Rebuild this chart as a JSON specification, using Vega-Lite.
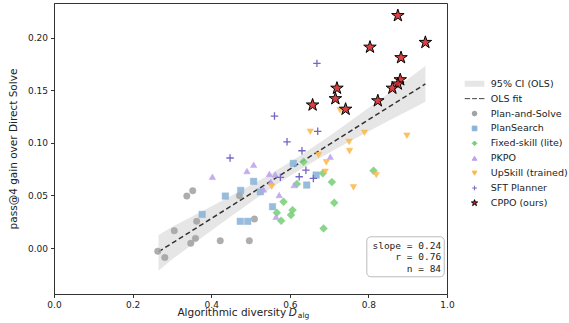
{
  "$schema": "https://vega.github.io/schema/vega-lite/v6.json",
  "width": 393,
  "height": 291,
  "autosize": {"type": "none"},
  "padding": {"left": 54, "top": 3, "right": 122, "bottom": 29},
  "background": "white",
  "config": {
    "font": "DejaVu Sans",
    "view": {"stroke": "#333", "strokeWidth": 1},
    "axis": {"grid": false, "domainColor": "#333", "tickColor": "#333", "labelColor": "#222", "titleColor": "#222", "labelFontSize": 9, "titleFontSize": 10.5, "titleFontWeight": "normal", "tickSize": 3.5, "labelPadding": 3, "labelFlush": false},
    "legend": {"orient": "none", "legendX": 415.8, "legendY": 76, "padding": 0, "labelFontSize": 9.5, "labelColor": "#222", "labelLimit": 200, "symbolSize": 22, "symbolStrokeWidth": 1, "rowPadding": 3.9, "labelOffset": 11.5, "symbolOpacity": 1}
  },
  "datasets": {
    "pts": [
      {"group": "Plan-and-Solve", "x": 0.264, "y": -0.003},
      {"group": "Plan-and-Solve", "x": 0.282, "y": -0.009},
      {"group": "Plan-and-Solve", "x": 0.306, "y": 0.0165},
      {"group": "Plan-and-Solve", "x": 0.348, "y": 0.0045},
      {"group": "Plan-and-Solve", "x": 0.36, "y": 0.0092},
      {"group": "Plan-and-Solve", "x": 0.363, "y": 0.0254},
      {"group": "Plan-and-Solve", "x": 0.338, "y": 0.0494},
      {"group": "Plan-and-Solve", "x": 0.353, "y": 0.0545},
      {"group": "Plan-and-Solve", "x": 0.423, "y": 0.0069},
      {"group": "Plan-and-Solve", "x": 0.497, "y": 0.0069},
      {"group": "Plan-and-Solve", "x": 0.51, "y": 0.0276},
      {"group": "Plan-and-Solve", "x": 0.472, "y": 0.0497},
      {"group": "PlanSearch", "x": 0.377, "y": 0.032},
      {"group": "PlanSearch", "x": 0.436, "y": 0.0494},
      {"group": "PlanSearch", "x": 0.475, "y": 0.0548},
      {"group": "PlanSearch", "x": 0.508, "y": 0.0634},
      {"group": "PlanSearch", "x": 0.525, "y": 0.0535},
      {"group": "PlanSearch", "x": 0.474, "y": 0.0254},
      {"group": "PlanSearch", "x": 0.493, "y": 0.0254},
      {"group": "PlanSearch", "x": 0.609, "y": 0.0805},
      {"group": "PlanSearch", "x": 0.667, "y": 0.0694},
      {"group": "PlanSearch", "x": 0.643, "y": 0.0599},
      {"group": "PlanSearch", "x": 0.556, "y": 0.0393},
      {"group": "Fixed-skill (lite)", "x": 0.635, "y": 0.082},
      {"group": "Fixed-skill (lite)", "x": 0.707, "y": 0.0627},
      {"group": "Fixed-skill (lite)", "x": 0.684, "y": 0.071},
      {"group": "Fixed-skill (lite)", "x": 0.584, "y": 0.044},
      {"group": "Fixed-skill (lite)", "x": 0.713, "y": 0.0431},
      {"group": "Fixed-skill (lite)", "x": 0.607, "y": 0.0361},
      {"group": "Fixed-skill (lite)", "x": 0.603, "y": 0.0314},
      {"group": "Fixed-skill (lite)", "x": 0.567, "y": 0.0336},
      {"group": "Fixed-skill (lite)", "x": 0.578, "y": 0.026},
      {"group": "Fixed-skill (lite)", "x": 0.686, "y": 0.0187},
      {"group": "Fixed-skill (lite)", "x": 0.813, "y": 0.0735},
      {"group": "Fixed-skill (lite)", "x": 0.618, "y": 0.061},
      {"group": "PKPO", "x": 0.403, "y": 0.0678},
      {"group": "PKPO", "x": 0.491, "y": 0.0732},
      {"group": "PKPO", "x": 0.508, "y": 0.0792},
      {"group": "PKPO", "x": 0.703, "y": 0.0868},
      {"group": "PKPO", "x": 0.563, "y": 0.07},
      {"group": "PKPO", "x": 0.552, "y": 0.063},
      {"group": "PKPO", "x": 0.533, "y": 0.0558},
      {"group": "PKPO", "x": 0.611, "y": 0.0599},
      {"group": "PKPO", "x": 0.573, "y": 0.0504},
      {"group": "PKPO", "x": 0.565, "y": 0.0298},
      {"group": "PKPO", "x": 0.548, "y": 0.0705},
      {"group": "UpSkill (trained)", "x": 0.652, "y": 0.1106},
      {"group": "UpSkill (trained)", "x": 0.728, "y": 0.131},
      {"group": "UpSkill (trained)", "x": 0.79, "y": 0.1096},
      {"group": "UpSkill (trained)", "x": 0.898, "y": 0.1068},
      {"group": "UpSkill (trained)", "x": 0.751, "y": 0.101},
      {"group": "UpSkill (trained)", "x": 0.752, "y": 0.0922},
      {"group": "UpSkill (trained)", "x": 0.82, "y": 0.0694},
      {"group": "UpSkill (trained)", "x": 0.762, "y": 0.0577},
      {"group": "UpSkill (trained)", "x": 0.673, "y": 0.0884},
      {"group": "UpSkill (trained)", "x": 0.693, "y": 0.0815},
      {"group": "UpSkill (trained)", "x": 0.69, "y": 0.0725},
      {"group": "UpSkill (trained)", "x": 0.554, "y": 0.0583},
      {"group": "SFT Planner", "x": 0.669, "y": 0.1756},
      {"group": "SFT Planner", "x": 0.561, "y": 0.1255},
      {"group": "SFT Planner", "x": 0.671, "y": 0.111},
      {"group": "SFT Planner", "x": 0.593, "y": 0.101},
      {"group": "SFT Planner", "x": 0.631, "y": 0.0925},
      {"group": "SFT Planner", "x": 0.448, "y": 0.0856},
      {"group": "SFT Planner", "x": 0.641, "y": 0.074},
      {"group": "SFT Planner", "x": 0.624, "y": 0.0678},
      {"group": "SFT Planner", "x": 0.66, "y": 0.0662},
      {"group": "SFT Planner", "x": 0.576, "y": 0.0672},
      {"group": "CPPO (ours)", "x": 0.875, "y": 0.221},
      {"group": "CPPO (ours)", "x": 0.945, "y": 0.1955},
      {"group": "CPPO (ours)", "x": 0.804, "y": 0.191},
      {"group": "CPPO (ours)", "x": 0.883, "y": 0.181},
      {"group": "CPPO (ours)", "x": 0.881, "y": 0.16},
      {"group": "CPPO (ours)", "x": 0.875, "y": 0.156},
      {"group": "CPPO (ours)", "x": 0.861, "y": 0.152},
      {"group": "CPPO (ours)", "x": 0.72, "y": 0.152},
      {"group": "CPPO (ours)", "x": 0.716, "y": 0.142},
      {"group": "CPPO (ours)", "x": 0.824, "y": 0.14},
      {"group": "CPPO (ours)", "x": 0.658, "y": 0.136},
      {"group": "CPPO (ours)", "x": 0.742, "y": 0.132}
    ],
    "band": [
      {"x": 0.266, "lo": -0.0215, "hi": 0.0125},
      {"x": 0.3, "lo": -0.011, "hi": 0.02},
      {"x": 0.35, "lo": 0.0028, "hi": 0.0297},
      {"x": 0.4, "lo": 0.0165, "hi": 0.0395},
      {"x": 0.45, "lo": 0.0301, "hi": 0.0494},
      {"x": 0.5, "lo": 0.0434, "hi": 0.0596},
      {"x": 0.55, "lo": 0.0563, "hi": 0.0702},
      {"x": 0.605, "lo": 0.0697, "hi": 0.0827},
      {"x": 0.65, "lo": 0.0799, "hi": 0.0936},
      {"x": 0.7, "lo": 0.0907, "hi": 0.1063},
      {"x": 0.75, "lo": 0.1009, "hi": 0.1196},
      {"x": 0.8, "lo": 0.1109, "hi": 0.1331},
      {"x": 0.85, "lo": 0.1207, "hi": 0.1468},
      {"x": 0.9, "lo": 0.1304, "hi": 0.1606},
      {"x": 0.945, "lo": 0.139, "hi": 0.173}
    ],
    "fit": [
      {"x": 0.266, "y": -0.0035},
      {"x": 0.945, "y": 0.156}
    ],
    "stats": [
      {"label": "slope = 0.24", "x": 0.985, "y": 0.0024},
      {"label": "r = 0.76", "x": 0.985, "y": -0.0086},
      {"label": "n = 84", "x": 0.985, "y": -0.0197}
    ],
    "box": [
      {"x": 0.796, "x2": 0.993, "y": 0.0107, "y2": -0.0273}
    ],
    "xtitle": [
      {"part": "Algorithmic diversity", "x": 0.5908}
    ]
  },
  "encoding": {},
  "layer": [
    {
      "data": {"name": "band"},
      "mark": {"type": "area", "color": "#e6e6e6", "opacity": 1},
      "encoding": {
        "x": {"field": "x", "type": "quantitative", "scale": {"domain": [0, 1], "nice": false, "zero": false}, "axis": {"values": [0, 0.2, 0.4, 0.6, 0.8, 1.0], "format": ".1f", "title": null}},
        "y": {"field": "lo", "type": "quantitative", "scale": {"domain": [-0.0437, 0.233], "nice": false, "zero": false}, "axis": {"values": [0, 0.05, 0.1, 0.15, 0.2], "format": ".2f", "title": "pass@4 gain over Direct Solve", "titlePadding": 9}},
        "y2": {"field": "hi"}
      }
    },
    {
      "mark": {"type": "rule", "color": "#888", "strokeWidth": 0.8, "strokeDash": [1, 2]},
      "encoding": {"y": {"datum": 0, "type": "quantitative"}}
    },
    {
      "data": {"name": "fit"},
      "mark": {"type": "line", "color": "#333", "strokeWidth": 1.5, "strokeDash": [5, 3]},
      "encoding": {
        "x": {"field": "x", "type": "quantitative"},
        "y": {"field": "y", "type": "quantitative"}
      }
    },
    {
      "data": {"name": "pts"},
      "mark": {"type": "point", "filled": true, "fillOpacity": 0.88},
      "encoding": {
        "x": {"field": "x", "type": "quantitative"},
        "y": {"field": "y", "type": "quantitative"},
        "shape": {"field": "group", "type": "nominal", "title": null,
          "scale": {"domain": ["95% CI (OLS)", "OLS fit", "Plan-and-Solve", "PlanSearch", "Fixed-skill (lite)", "PKPO", "UpSkill (trained)", "SFT Planner", "CPPO (ours)"],
            "range": ["M-4.2,-1.28H4.2V1.28H-4.2Z", "M-4.2,0H-1.9M-1.05,0H1.05M1.9,0H4.2", "circle", "square", "diamond", "triangle-up", "triangle-down", "M-1,0H1M0,-1V1", "M0,-1.4L0.3143,-0.4326L1.3315,-0.4326L0.5086,0.1652L0.8229,1.1326L0,0.5348L-0.8229,1.1326L-0.5086,0.1652L-1.3315,-0.4326L-0.3143,-0.4326Z"]}},
        "fill": {"field": "group", "type": "nominal", "title": null,
          "scale": {"domain": ["95% CI (OLS)", "OLS fit", "Plan-and-Solve", "PlanSearch", "Fixed-skill (lite)", "PKPO", "UpSkill (trained)", "SFT Planner", "CPPO (ours)"],
            "range": ["#e6e6e6", "transparent", "#a3a3a3", "#8ab4d7", "#79cf79", "#bca2ec", "#fdb84c", "transparent", "#d62728"]}},
        "stroke": {"field": "group", "type": "nominal", "title": null,
          "scale": {"domain": ["95% CI (OLS)", "OLS fit", "Plan-and-Solve", "PlanSearch", "Fixed-skill (lite)", "PKPO", "UpSkill (trained)", "SFT Planner", "CPPO (ours)"],
            "range": ["transparent", "#444444", "#a3a3a3", "#8ab4d7", "#79cf79", "#bca2ec", "#fdb84c", "#7566c4", "black"]}},
        "strokeOpacity": {"condition": {"test": "datum.group === 'SFT Planner' || datum.group === 'CPPO (ours)'", "value": 1}, "value": 0.55},
        "size": {"condition": [
            {"test": "datum.group === 'CPPO (ours)'", "value": 88},
            {"test": "datum.group === 'SFT Planner'", "value": 55},
            {"test": "datum.group === 'Fixed-skill (lite)'", "value": 62},
            {"test": "datum.group === 'PlanSearch'", "value": 42}
          ], "value": 42},
        "strokeWidth": {"condition": [
            {"test": "datum.group === 'SFT Planner'", "value": 1.3},
            {"test": "datum.group === 'CPPO (ours)'", "value": 1}
          ], "value": 0.8}
      }
    },
    {
      "data": {"name": "box"},
      "mark": {"type": "rect", "fill": "white", "stroke": "#bbbbbb", "strokeWidth": 1, "cornerRadius": 4},
      "encoding": {
        "x": {"field": "x", "type": "quantitative"},
        "x2": {"field": "x2"},
        "y": {"field": "y", "type": "quantitative"},
        "y2": {"field": "y2"}
      }
    },
    {
      "data": {"name": "stats"},
      "mark": {"type": "text", "font": "DejaVu Sans Mono", "fontSize": 9.5, "align": "right", "baseline": "middle", "color": "#222"},
      "encoding": {
        "x": {"field": "x", "type": "quantitative"},
        "y": {"field": "y", "type": "quantitative"},
        "text": {"field": "label"}
      }
    },
    {
      "data": {"name": "xtitle"},
      "mark": {"type": "text", "fontSize": 10.5, "align": "right", "baseline": "middle", "color": "#222", "dy": 19},
      "encoding": {
        "x": {"field": "x", "type": "quantitative"},
        "y": {"datum": -0.0437, "type": "quantitative"},
        "text": {"field": "part"}
      }
    },
    {
      "data": {"values": [{"part": "D", "x": 0.5975}]},
      "mark": {"type": "text", "fontSize": 10.5, "fontStyle": "italic", "align": "left", "baseline": "middle", "color": "#222", "dy": 19},
      "encoding": {
        "x": {"field": "x", "type": "quantitative"},
        "y": {"datum": -0.0437, "type": "quantitative"},
        "text": {"field": "part"}
      }
    },
    {
      "data": {"values": [{"part": "alg", "x": 0.6205}]},
      "mark": {"type": "text", "fontSize": 7.5, "align": "left", "baseline": "middle", "color": "#222", "dy": 22},
      "encoding": {
        "x": {"field": "x", "type": "quantitative"},
        "y": {"datum": -0.0437, "type": "quantitative"},
        "text": {"field": "part"}
      }
    }
  ]
}
